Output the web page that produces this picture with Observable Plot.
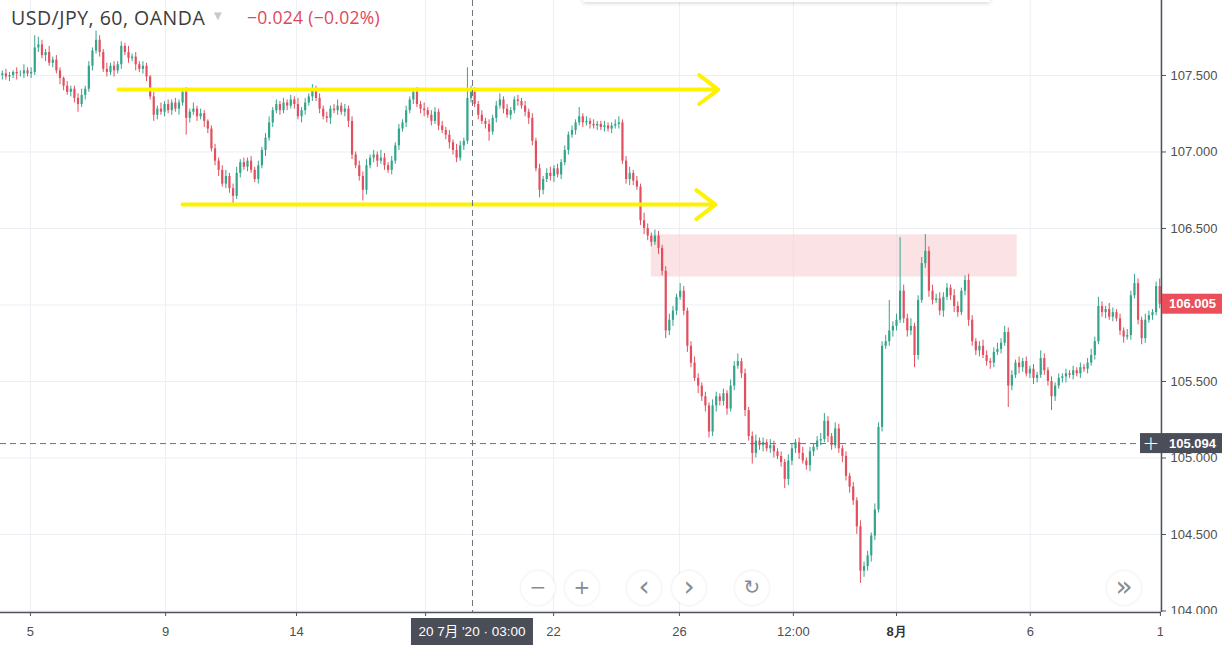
<!DOCTYPE html>
<html>
<head>
<meta charset="utf-8">
<script src="https://cdn.jsdelivr.net/npm/d3@7"></script>
<script src="https://cdn.jsdelivr.net/npm/@observablehq/plot@0.6"></script>
<style>
  body { margin: 0; background: #fff; }
  #wrap { position: relative; width: 1222px; height: 645px; overflow: hidden; background: #fff; }
  #wrap svg { position: absolute; left: 0; top: 0; }
  .title { position: absolute; left: 11px; top: 4px; font-family: "Open Sans", "Noto Sans", sans-serif; font-size: 19.5px; letter-spacing: 0.5px; color: #3c3c3c; white-space: nowrap; }
  .tri { position: absolute; left: 214px; top: 10px; color: #c8c8c8; font-family: "DejaVu Sans", sans-serif; font-size: 10px; }
  .chg { position: absolute; left: 247px; top: 5px; font-family: "Open Sans", "Noto Sans", sans-serif; font-size: 17.5px; letter-spacing: 0.3px; color: #e0475a; white-space: nowrap; }
  .panel { position: absolute; left: 583px; top: -12px; width: 407px; height: 14px; background: #fff; box-shadow: 0 1px 4px rgba(0,0,0,0.18); }
  .btn { position: absolute; width: 34px; height: 34px; border-radius: 50%; background: #fff; box-shadow: 0 0 3px rgba(0,0,0,0.12); color: #878a93; font-family: "DejaVu Sans", sans-serif; font-size: 20px; line-height: 33px; text-align: center; }
  .btn.big { font-size: 28px; line-height: 31px; }
</style>
</head>
<body>
<div id="wrap"></div>
<script>
// ---------- data (2-hour bars) ----------
const firstOpen = 107.50;
const closes = [
107.51,107.49,107.50,107.52,107.51,107.51,107.53,107.51,107.52,107.68,
107.70,107.63,107.65,107.58,107.60,107.53,107.48,107.43,107.39,107.41,
107.35,107.31,107.37,107.41,107.56,107.66,107.73,107.65,107.54,107.52,
107.56,107.53,107.57,107.69,107.65,107.61,107.62,107.57,107.54,107.56,
107.49,107.36,107.24,107.28,107.26,107.31,107.27,107.32,107.28,107.32,
107.39,107.22,107.26,107.28,107.23,107.25,107.20,107.15,107.02,106.94,
106.88,106.79,106.84,106.76,106.71,106.86,106.93,106.90,106.94,106.88,
106.82,106.91,107.01,107.09,107.19,107.27,107.31,107.27,107.32,107.30,
107.34,107.31,107.23,107.27,107.32,107.36,107.41,107.35,107.28,107.23,
107.22,107.28,107.27,107.30,107.26,107.28,107.20,106.98,106.91,106.84,
106.75,106.91,106.96,106.98,106.94,106.96,106.91,106.88,106.94,107.04,
107.15,107.19,107.27,107.34,107.39,107.31,107.28,107.27,107.24,107.20,
107.26,107.17,107.14,107.11,107.06,107.01,106.96,107.04,107.07,107.35,
107.39,107.31,107.24,107.20,107.18,107.13,107.22,107.30,107.34,107.28,
107.24,107.27,107.34,107.33,107.30,107.26,107.22,107.07,106.89,106.75,
106.82,106.86,106.84,106.89,106.85,106.93,107.01,107.11,107.14,107.19,
107.23,107.19,107.20,107.18,107.17,107.18,107.16,107.17,107.15,107.17,
107.18,107.19,106.94,106.82,106.86,106.81,106.77,106.55,106.50,106.45,
106.41,106.45,106.37,106.22,105.83,105.90,105.96,106.05,106.09,105.96,
105.73,105.62,105.52,105.47,105.40,105.34,105.17,105.34,105.40,105.37,
105.42,105.32,105.47,105.60,105.63,105.55,105.31,105.14,105.03,105.11,
105.08,105.10,105.06,105.08,105.04,105.01,104.97,104.86,104.98,105.06,
105.10,105.03,104.98,104.95,105.04,105.07,105.11,105.12,105.24,105.14,
105.08,105.19,105.06,105.01,104.88,104.81,104.72,104.55,104.26,104.29,
104.36,104.49,104.66,105.20,105.73,105.76,105.83,105.86,105.90,106.09,
105.91,105.83,105.86,105.67,106.03,106.27,106.35,106.09,106.03,106.04,
105.96,106.05,106.11,106.06,105.99,105.95,106.09,106.16,105.90,105.76,
105.70,105.73,105.67,105.63,105.62,105.69,105.71,105.75,105.82,105.47,
105.54,105.62,105.59,105.63,105.55,105.58,105.52,105.54,105.65,105.57,
105.50,105.40,105.47,105.52,105.53,105.55,105.54,105.57,105.55,105.59,
105.58,105.62,105.67,105.76,105.99,105.95,105.97,105.92,105.95,105.91,
105.83,105.79,105.80,106.06,106.14,105.90,105.78,105.90,105.93,105.95,
106.12,106.005
];
// upper / lower wick lengths in pips (0.01 JPY)
const wickUpPips = [
2,3,2,1,3,2,4,2,3,8, 5,3,2,4,2,3,2,1,3,2, 2,3,4,2,3,2,6,3,2,4, 2,3,2,3,2,4,2,3,2,3,
2,1,3,2,4,2,3,2,3,2, 2,3,2,4,2,3,2,1,2,3, 2,3,4,2,3,4,2,3,2,3, 2,3,2,3,4,2,3,2,3,2,
3,2,4,2,3,2,3,2,3,2, 3,2,3,4,2,3,2,3,2,3, 3,4,2,3,2,5,3,2,3,2, 3,2,3,2,2,3,2,4,2,3,
3,2,3,2,3,2,4,3,2,20, 4,3,2,3,2,3,2,3,4,2, 3,2,2,3,2,3,2,3,2,3, 2,3,4,2,3,2,3,2,3,2,
6,2,3,2,3,2,2,3,2,2, 3,4,2,3,4,2,3,2,5,3, 2,4,3,2,3,4,3,2,5,3, 2,3,4,3,2,3,2,4,3,2,
3,2,4,3,5,2,3,2,3,4, 2,3,2,4,3,2,3,2,4,3, 2,3,4,2,3,2,3,4,5,3, 2,4,3,2,3,2,3,2,4,3,
3,2,4,3,3,4,20,3,4,35, 4,3,5,2,3,4,11,3,4,3, 4,3,3,2,4,3,2,3,4,3, 2,3,4,3,2,3,4,3,4,3,
3,2,4,2,3,2,3,2,5,3, 2,3,2,3,2,3,2,3,2,3, 2,3,4,3,6,3,2,4,3,2, 3,2,4,3,6,3,2,4,3,2,
3,5
];
const wickDownPips = [
3,2,3,2,4,2,3,2,3,2, 3,2,4,2,3,2,4,3,2,3, 3,5,2,3,2,3,2,3,2,3, 2,4,2,3,2,3,2,4,2,3,
3,2,4,3,2,3,2,3,2,4, 2,11,3,2,3,2,4,3,2,3, 4,2,3,3,5,2,3,2,3,2, 2,3,2,4,2,3,2,3,2,3,
2,3,2,4,3,2,3,2,3,2, 3,4,2,3,2,3,4,3,2,3, 7,3,2,3,4,2,3,2,3,2, 3,2,3,2,3,2,3,4,2,3,
2,3,2,3,4,3,3,2,3,2, 3,2,3,2,3,6,2,3,2,3, 2,3,2,3,2,3,4,3,2,5, 3,2,3,4,2,3,2,3,2,3,
2,3,2,3,2,3,2,3,2,3, 2,3,2,3,4,3,2,3,4,3, 3,2,4,3,5,3,4,3,2,3, 4,3,2,5,3,4,4,3,4,3,
3,4,2,3,2,3,4,3,7,3, 3,4,2,3,4,2,3,6,4,3, 3,4,2,3,4,3,2,3,2,4, 3,2,3,4,3,4,3,5,8,4,
3,4,3,2,3,2,3,4,3,2, 3,4,3,8,3,2,3,4,3,2, 3,4,2,3,4,3,2,3,4,3, 3,4,2,3,4,3,2,3,2,14,
3,2,4,3,2,3,4,3,2,3, 3,9,3,2,3,4,2,3,2,3, 2,3,2,3,2,3,4,2,3,2, 3,4,2,3,2,3,4,3,2,3,
2,3
];
const priceTicks = [104.0, 104.5, 105.0, 105.5, 106.0, 106.5, 107.0, 107.5];
const yDomain = [103.99, 107.99];
const xTickBars = [7.8, 45.3, 81.6, 117.4, 152.9, 187.8, 219.4, 248.0, 285.1, 321.2];
const xTickLabels = ["5", "9", "14", "19", "22", "26", "12:00", "8月", "6", "1"];
// drawings
const channelLines = [
  {x1: 32.2, x2: 198.6, price: 107.408},
  {x1: 50.0, x2: 197.8, price: 106.656}
];
const zones = [{x1: 180.0, x2: 281.5, top: 106.458, bottom: 106.183}];
const crossBar = 130.4, crossPrice = 105.094, crossLabel = "20 7月 '20 · 03:00";
const lastPrice = 106.005;
const titleText = "USD/JPY, 60, OANDA", changeText = "\u22120.024 (\u22120.02%)";

// ---------- build ----------
const UP = "#34a58b", DOWN = "#e2505f";
const bars = closes.map((c, i) => {
  const o = i ? closes[i - 1] : firstOpen;
  return {i, open: o, close: c,
    high: Math.max(o, c) + wickUpPips[i] / 100,
    low: Math.min(o, c) - wickDownPips[i] / 100,
    up: c >= o};
});
const FONT = '"Liberation Sans", Arial, sans-serif';
const AX = "#50535e";
// labels hidden by the crosshair's time label (as in the reference)
const hiddenUnderCross = d => Math.abs(d - crossBar) < 17;
// price label hidden by the last-price label
const hiddenPrice = d => Math.abs(d - lastPrice) < 0.06;

const chart = Plot.plot({
  width: 1222, height: 645,
  marginLeft: 0, marginRight: 61, marginTop: 0, marginBottom: 33,
  style: {fontFamily: FONT, fontSize: "13px", color: "#4f4f4f", background: "#fff", overflow: "visible"},
  x: {type: "linear", domain: [-0.5, closes.length - 0.5], axis: null},
  y: {domain: yDomain, axis: null},
  marks: [
    Plot.gridY(priceTicks, {stroke: "#eceff4", strokeOpacity: 1}),
    Plot.gridX(xTickBars, {stroke: "#eceff4", strokeOpacity: 1}),
    Plot.rect(zones, {x1: "x1", x2: "x2", y1: "bottom", y2: "top", fill: "#f8d3d7", fillOpacity: 0.65}),
    Plot.ruleX(bars, {x: "i", y1: "low", y2: "high", stroke: d => d.up ? UP : DOWN, strokeWidth: 1}),
    Plot.ruleX(bars, {x: "i", y1: "open", y2: "close", stroke: d => d.up ? UP : DOWN, strokeWidth: 2.2}),
    Plot.arrow(channelLines, {x1: "x1", x2: "x2", y1: "price", y2: "price", stroke: "#fff200", strokeWidth: 4, headLength: 9, headAngle: 74}),
    Plot.ruleX([crossBar], {stroke: "#6e717b", strokeDasharray: "6,4", strokeWidth: 1}),
    Plot.ruleY([crossPrice], {stroke: "#6e717b", strokeDasharray: "6,4", strokeWidth: 1}),
    Plot.axisY(priceTicks, {anchor: "right", tickFormat: d => hiddenPrice(d) ? "" : d.toFixed(3), tickSize: 4, tickPadding: 5, stroke: AX, fill: "#4f4f4f"}),
    Plot.axisX(xTickBars, {anchor: "bottom", tickFormat: d => hiddenUnderCross(d) ? "" : xTickLabels[xTickBars.indexOf(d)], tickSize: 4, tickPadding: 10, stroke: AX, fill: "#4f4f4f"}),
    Plot.ruleY([yDomain[0]], {stroke: AX, strokeWidth: 1.5}),
    Plot.ruleX([closes.length - 0.5], {stroke: AX, strokeWidth: 1.5})
  ]
});

const wrap = document.getElementById("wrap");
wrap.appendChild(chart);

// bold month label
const svg = d3.select(chart);
svg.selectAll("text").filter(function () { return this.textContent === "8月"; })
  .attr("font-weight", "bold").attr("fill", "#333");

const X = v => chart.scale("x").apply(v), Y = v => chart.scale("y").apply(v);
const plotRight = X(closes.length - 0.5);
const plotBottom = Y(yDomain[0]);
const g = svg.append("g").attr("font-family", FONT).attr("font-size", 13).attr("text-anchor", "start");

// the pane clips the lowest price label
g.append("rect").attr("x", plotRight + 2).attr("y", plotBottom + 2).attr("width", 1222 - plotRight).attr("height", 40).attr("fill", "#fff");

// last price label
const yl = Y(lastPrice);
g.append("rect").attr("x", plotRight + 1).attr("y", yl - 10).attr("width", 1222 - plotRight).attr("height", 20).attr("fill", "#e9505c");
g.append("text").attr("x", plotRight + 8).attr("y", yl).attr("dy", "0.36em").attr("fill", "#fff").attr("font-weight", "bold").text(lastPrice.toFixed(3));

// crosshair price label
const yc = Y(crossPrice);
g.append("rect").attr("x", plotRight - 21).attr("y", yc - 10).attr("width", 1222 - plotRight + 21).attr("height", 20).attr("fill", "#4a4e59");
g.append("text").attr("x", plotRight - 10).attr("y", yc).attr("dy", "0.36em").attr("text-anchor", "middle").attr("fill", "#fff").attr("font-size", 20).attr("font-family", "DejaVu Sans").attr("font-weight", "200").text("+");
g.append("text").attr("x", plotRight + 8).attr("y", yc).attr("dy", "0.36em").attr("fill", "#fff").attr("font-weight", "bold").text(crossPrice.toFixed(3));

// crosshair time label
const xc = X(crossBar);
g.append("rect").attr("x", xc - 61).attr("y", plotBottom + 6).attr("width", 122).attr("height", 645 - plotBottom - 6).attr("fill", "#4a4e59");
g.append("text").attr("x", xc).attr("y", plotBottom + 6 + (645 - plotBottom - 6) / 2).attr("dy", "0.36em").attr("text-anchor", "middle")
  .attr("fill", "#fff").attr("font-size", 13.5).attr("font-family", '"Liberation Sans", "Noto Sans CJK JP", sans-serif').text(crossLabel);

// header
const add = (cls, txt) => { const d = document.createElement("div"); d.className = cls; d.textContent = txt; wrap.appendChild(d); return d; };
add("title", titleText);
add("tri", "▼");
add("chg", changeText);
add("panel", "");

// navigation buttons
const buttons = [["\u2212", 538, ""], ["+", 582, ""], ["\u2039", 644, "big"], ["\u203A", 689, "big"], ["\u21BB", 752, ""], ["\u00BB", 1124, "big"]];
buttons.forEach(([t, cx, cls]) => {
  const b = add("btn " + cls, t);
  b.style.left = (cx - 17) + "px";
  b.style.top = "571px";
});
</script>
</body>
</html>
